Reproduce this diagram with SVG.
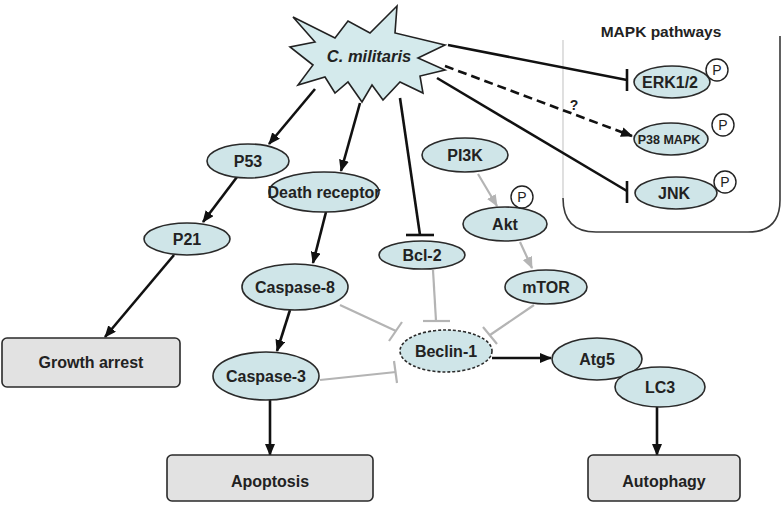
<svg xmlns="http://www.w3.org/2000/svg" width="783" height="505" viewBox="0 0 783 505">
<defs>
<marker id="ah" markerUnits="userSpaceOnUse" markerWidth="12" markerHeight="10" refX="11" refY="5" orient="auto"><path d="M0,0 L12,5 L0,10 Z" fill="#111"/></marker>
<marker id="ahg" markerUnits="userSpaceOnUse" markerWidth="12" markerHeight="10" refX="11" refY="5" orient="auto"><path d="M0,0 L12,5 L0,10 Z" fill="#b4b4b4"/></marker>
</defs>
<style>
text{font-family:"Liberation Sans",Arial,sans-serif;font-weight:bold;fill:#222;text-anchor:middle}
.n{fill:#cfe5e8;stroke:#2a2a2a;stroke-width:1.6}
.b{fill:#e2e2e2;stroke:#2a2a2a;stroke-width:1.6}
.lbl{font-size:16px}
.blk{stroke:#111;stroke-width:2.6;fill:none}
.gry{stroke:#b4b4b4;stroke-width:2.2;fill:none}
.pc{fill:#fff;stroke:#222;stroke-width:1.4}
.pt{font-size:14px;font-weight:normal}
</style>
<rect width="783" height="505" fill="#fff"/>

<g id="mapk-box">
<path d="M563,40 L563,198" stroke="#d8d8d8" stroke-width="1.6" fill="none"/>
<path d="M563,198 Q563,232 596,232 L748,232 Q780,232 780,200 L780,36" stroke="#3a3a3a" stroke-width="1.6" fill="none"/>
<text x="661" y="37" font-size="15.5">MAPK pathways</text>
</g>

<g id="connectors">
<line class="blk" x1="315" y1="89" x2="269" y2="144" marker-end="url(#ah)"/>
<line class="blk" x1="360" y1="103" x2="341" y2="171" marker-end="url(#ah)"/>
<line class="blk" x1="400" y1="98" x2="420" y2="235"/>
<line class="blk" x1="406" y1="235" x2="434" y2="235"/>
<line class="blk" x1="448" y1="45" x2="627" y2="80"/>
<line class="blk" x1="627" y1="69" x2="627" y2="91"/>
<line class="blk" x1="445" y1="66" x2="632" y2="136" stroke-dasharray="9,5" marker-end="url(#ah)"/>
<line class="blk" x1="437" y1="78" x2="627" y2="191"/>
<line class="blk" x1="627" y1="181" x2="627" y2="203"/>
<text x="574" y="110" font-size="14">?</text>
<line class="blk" x1="237" y1="177" x2="203" y2="222" marker-end="url(#ah)"/>
<line class="blk" x1="174" y1="255" x2="105" y2="337" marker-end="url(#ah)"/>
<line class="blk" x1="326" y1="212" x2="313" y2="263" marker-end="url(#ah)"/>
<line class="blk" x1="290" y1="310" x2="277" y2="351" marker-end="url(#ah)"/>
<line class="blk" x1="270" y1="400" x2="270" y2="455" marker-end="url(#ah)"/>
<line class="blk" x1="492" y1="358" x2="551" y2="358" marker-end="url(#ah)"/>
<line class="blk" x1="657" y1="407" x2="657" y2="455" marker-end="url(#ah)"/>
<line class="gry" x1="478" y1="174" x2="497" y2="206" marker-end="url(#ahg)"/>
<line class="gry" x1="520" y1="242" x2="532" y2="268" marker-end="url(#ahg)"/>
<line class="gry" x1="340" y1="305" x2="396" y2="331"/>
<line class="gry" x1="389" y1="341" x2="402" y2="322"/>
<line class="gry" x1="433" y1="270" x2="436" y2="321"/>
<line class="gry" x1="423" y1="321" x2="450" y2="321"/>
<line class="gry" x1="534" y1="305" x2="490" y2="335"/>
<line class="gry" x1="483" y1="327" x2="497" y2="344"/>
<line class="gry" x1="320" y1="380" x2="396" y2="372"/>
<line class="gry" x1="394" y1="361" x2="397" y2="383"/>
</g>

<g id="c-militaris">
<polygon points="293,17 335,38 348,21 370,33 397,6 395,33 445,45 418,58 445,70 420,76 423,93 400,82 383,100 372,85 362,102 348,82 335,93 325,77 298,85 313,65 290,47 315,42" fill="#d4eaec" stroke="#222" stroke-width="1.6" stroke-linejoin="miter"/>
<text x="369" y="62" font-size="16.5" font-style="italic">C. militaris</text>
</g>

<g id="erk"><ellipse class="n" cx="672" cy="82" rx="38" ry="16"/><text class="lbl" x="670" y="88">ERK1/2</text><circle class="pc" cx="717" cy="70" r="11"/><text class="pt" x="717" y="75">P</text></g>
<g id="p38"><ellipse class="n" cx="671" cy="139" rx="37" ry="16"/><text x="669" y="144" font-size="12.5">P38 MAPK</text><circle class="pc" cx="723" cy="125" r="11"/><text class="pt" x="723" y="130">P</text></g>
<g id="jnk"><ellipse class="n" cx="676" cy="193" rx="41" ry="16"/><text class="lbl" x="674" y="199">JNK</text><circle class="pc" cx="725" cy="182" r="11"/><text class="pt" x="725" y="187">P</text></g>

<g id="p53"><ellipse class="n" cx="248" cy="161" rx="41" ry="17"/><text class="lbl" x="248" y="167">P53</text></g>
<g id="death-receptor"><ellipse class="n" cx="324" cy="192" rx="55" ry="20"/><text class="lbl" x="324" y="198">Death receptor</text></g>
<g id="p21"><ellipse class="n" cx="187" cy="239" rx="43" ry="16"/><text class="lbl" x="187" y="245">P21</text></g>
<g id="pi3k"><ellipse class="n" cx="465" cy="155" rx="43" ry="17"/><text class="lbl" x="465" y="161">PI3K</text></g>
<g id="akt"><ellipse class="n" cx="505" cy="224" rx="42" ry="17"/><text class="lbl" x="505" y="230">Akt</text><circle class="pc" cx="522" cy="197" r="11"/><text class="pt" x="522" y="202">P</text></g>
<g id="bcl2"><ellipse class="n" cx="422" cy="255" rx="43" ry="14"/><text class="lbl" x="422" y="261">Bcl-2</text></g>
<g id="mtor"><ellipse class="n" cx="546" cy="287" rx="41" ry="17"/><text class="lbl" x="546" y="293">mTOR</text></g>
<g id="caspase8"><ellipse class="n" cx="295" cy="287" rx="53" ry="23"/><text class="lbl" x="295" y="293">Caspase-8</text></g>
<g id="caspase3"><ellipse class="n" cx="266" cy="376" rx="53" ry="24"/><text class="lbl" x="266" y="382">Caspase-3</text></g>
<g id="beclin1"><ellipse class="n" cx="446" cy="351" rx="46" ry="21" stroke-dasharray="3,2"/><text class="lbl" x="446" y="357">Beclin-1</text></g>
<g id="atg5"><ellipse class="n" cx="597" cy="359" rx="45" ry="21"/><text class="lbl" x="597" y="365">Atg5</text></g>
<g id="lc3"><ellipse class="n" cx="660" cy="387" rx="45" ry="20"/><text class="lbl" x="660" y="393">LC3</text></g>

<g id="growth-arrest"><rect class="b" x="2" y="338" width="178" height="49" rx="5"/><text class="lbl" x="91" y="368">Growth arrest</text></g>
<g id="apoptosis"><rect class="b" x="167" y="455" width="206" height="46" rx="5"/><text class="lbl" x="270" y="487">Apoptosis</text></g>
<g id="autophagy"><rect class="b" x="588" y="455" width="152" height="46" rx="5"/><text class="lbl" x="664" y="487">Autophagy</text></g>
</svg>
